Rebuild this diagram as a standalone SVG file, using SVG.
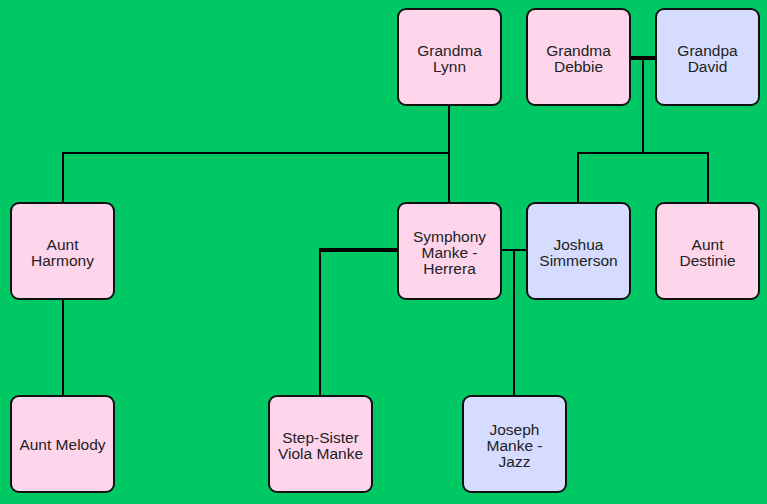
<svg xmlns="http://www.w3.org/2000/svg" width="767" height="504" viewBox="0 0 767 504">
<style>
.n rect{stroke:#111;stroke-width:2}
.p rect{fill:#FFD5EC}
.b rect{fill:#D5DCFF}
text{font-family:"Liberation Sans",Arial,sans-serif;font-size:15.5px;fill:#222;text-anchor:middle}
.c line{stroke:#000;stroke-width:2;fill:none}
.c .t{stroke-width:4}
</style>
<rect width="767" height="504" fill="#00C864"/>
<g class="c" id="connectors">
<line x1="449" y1="105" x2="449" y2="203"/>
<line x1="62" y1="153" x2="449" y2="153"/>
<line x1="63" y1="153" x2="63" y2="203"/>
<line x1="63" y1="299" x2="63" y2="396"/>
<line class="t" x1="630" y1="58" x2="656" y2="58"/>
<line x1="643" y1="58" x2="643" y2="153"/>
<line x1="577" y1="153" x2="709" y2="153"/>
<line x1="578" y1="153" x2="578" y2="203"/>
<line x1="708" y1="153" x2="708" y2="203"/>
<line class="t" x1="319" y1="250" x2="398" y2="250"/>
<line x1="320" y1="250" x2="320" y2="396"/>
<line x1="501" y1="250" x2="527" y2="250"/>
<line x1="514" y1="250" x2="514" y2="396"/>
</g>
<g id="grandma-lynn" class="n p"><rect x="398" y="9" width="103" height="96" rx="8"/><text x="449.5" y="56">Grandma</text><text x="449.5" y="72">Lynn</text></g>
<g id="grandma-debbie" class="n p"><rect x="527" y="9" width="103" height="96" rx="8"/><text x="578.5" y="56">Grandma</text><text x="578.5" y="72">Debbie</text></g>
<g id="grandpa-david" class="n b"><rect x="656" y="9" width="103" height="96" rx="8"/><text x="707.5" y="56">Grandpa</text><text x="707.5" y="72">David</text></g>
<g id="aunt-harmony" class="n p"><rect x="11" y="203" width="103" height="96" rx="8"/><text x="62.5" y="250">Aunt</text><text x="62.5" y="266">Harmony</text></g>
<g id="symphony" class="n p"><rect x="398" y="203" width="103" height="96" rx="8"/><text x="449.5" y="242">Symphony</text><text x="449.5" y="258">Manke -</text><text x="449.5" y="274">Herrera</text></g>
<g id="joshua" class="n b"><rect x="527" y="203" width="103" height="96" rx="8"/><text x="578.5" y="250">Joshua</text><text x="578.5" y="266">Simmerson</text></g>
<g id="aunt-destinie" class="n p"><rect x="656" y="203" width="103" height="96" rx="8"/><text x="707.5" y="250">Aunt</text><text x="707.5" y="266">Destinie</text></g>
<g id="aunt-melody" class="n p"><rect x="11" y="396" width="103" height="96" rx="8"/><text x="62.5" y="450">Aunt Melody</text></g>
<g id="viola" class="n p"><rect x="269" y="396" width="103" height="96" rx="8"/><text x="320.5" y="443">Step-Sister</text><text x="320.5" y="459">Viola Manke</text></g>
<g id="joseph" class="n b"><rect x="463" y="396" width="103" height="96" rx="8"/><text x="514.5" y="435">Joseph</text><text x="514.5" y="451">Manke -</text><text x="514.5" y="467">Jazz</text></g>
</svg>
